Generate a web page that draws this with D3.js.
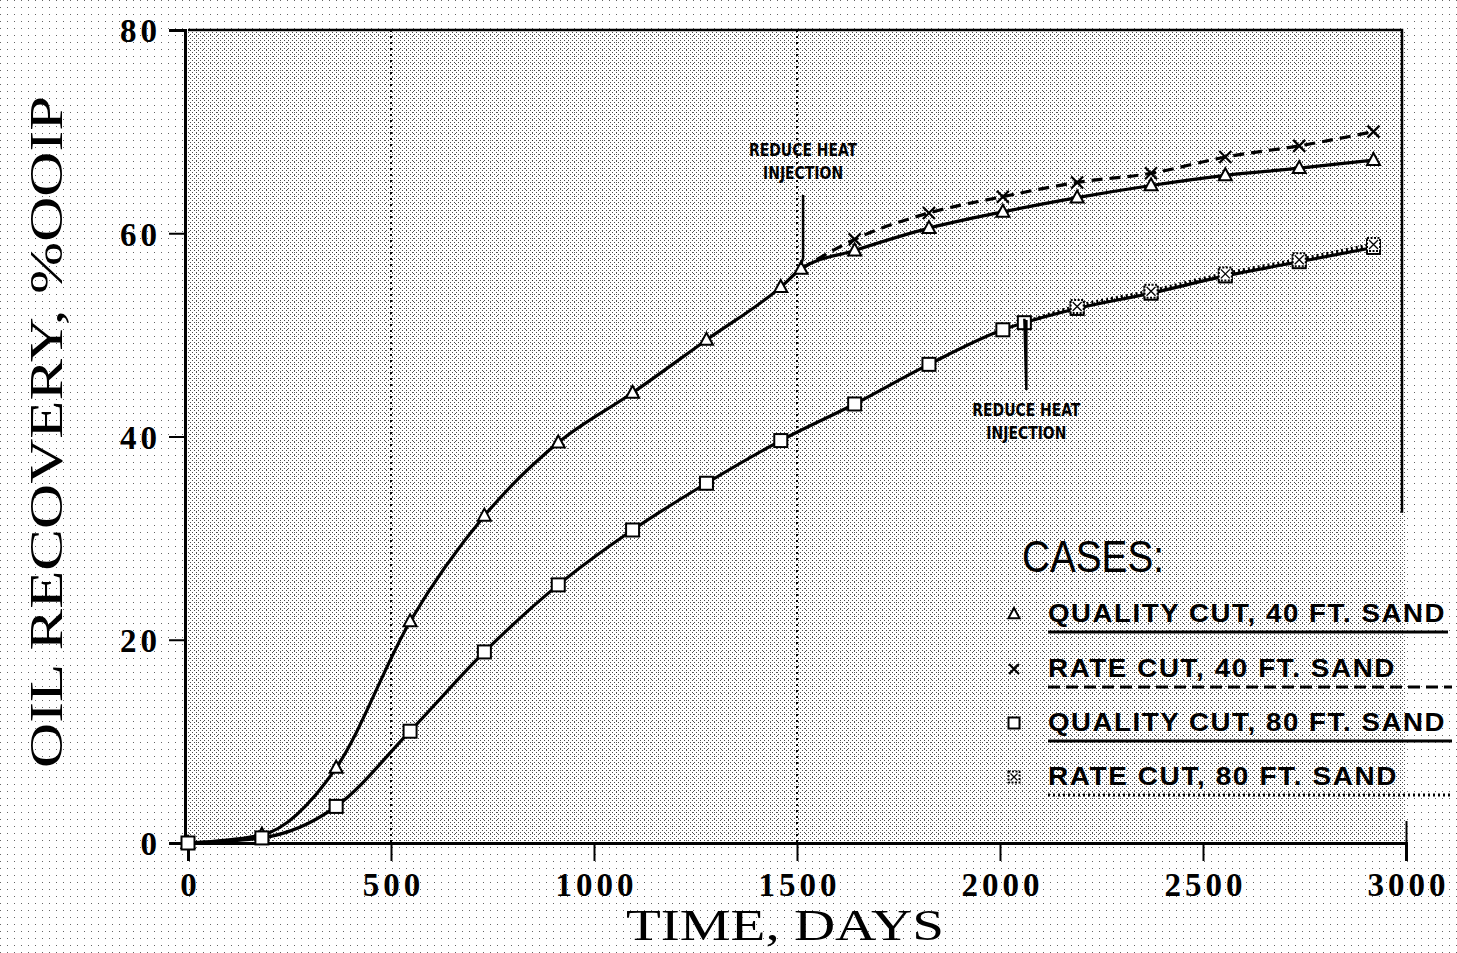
<!DOCTYPE html>
<html>
<head>
<meta charset="utf-8">
<script src="https://cdn.jsdelivr.net/npm/d3@7"></script>
<style>
  html, body { margin: 0; padding: 0; background: #fff; }
  svg { display: block; }
</style>
</head>
<body>
<svg id="chart" width="1457" height="953"></svg>
<script>
// Cumulative oil recovery (% OOIP) versus time (days) for four steam cases.
const daysQ40 = [0, 182, 365, 547, 730, 912, 1095, 1277, 1460, 1510, 1642, 1825, 2007, 2190, 2372, 2555, 2737, 2920];
const recQ40  = [0, 0.8, 7.4, 21.8, 32.2, 39.4, 44.3, 49.5, 54.7, 56.5, 58.3, 60.5, 62.1, 63.5, 64.7, 65.7, 66.4, 67.2];

const daysR40 = [1510, 1642, 1825, 2007, 2190, 2372, 2555, 2737, 2920];
const recR40  = [56.5, 59.4, 62.0, 63.6, 65.0, 65.9, 67.5, 68.6, 70.0];

const daysQ80 = [0, 182, 365, 547, 730, 912, 1095, 1277, 1460, 1642, 1825, 2007, 2060, 2190, 2372, 2555, 2737, 2920];
const recQ80  = [0, 0.5, 3.6, 11.0, 18.8, 25.4, 30.8, 35.4, 39.6, 43.2, 47.1, 50.5, 51.2, 52.6, 54.1, 55.8, 57.2, 58.6];

const daysR80 = [2060, 2190, 2372, 2555, 2737, 2920];
const recR80  = [51.2, 52.8, 54.3, 56.0, 57.4, 58.9];

const xTicks = [0, 500, 1000, 1500, 2000, 2500, 3000];
const yTicks = [0, 20, 40, 60, 80];
const gridDays = [500, 1500];

const legendLabels = [
  "QUALITY CUT, 40 FT. SAND",
  "RATE CUT, 40 FT. SAND",
  "QUALITY CUT, 80 FT. SAND",
  "RATE CUT, 80 FT. SAND"
];
const noteText = ["REDUCE HEAT", "INJECTION"];

const svg = d3.select("#chart");
const serif = "'Liberation Serif', 'DejaVu Serif', serif";
const sans = "'Liberation Sans Narrow', 'Liberation Sans', 'DejaVu Sans Condensed', sans-serif";

const x = d3.scaleLinear().domain([0, 3000]).range([188, 1406]);
const y = d3.scaleLinear().domain([0, 80]).range([843, 30]);

// halftone-like screen over the page
const defs = svg.append("defs");
const pat = defs.append("pattern").attr("id", "screen")
  .attr("width", 4).attr("height", 4).attr("patternUnits", "userSpaceOnUse");
pat.append("rect").attr("x", 0).attr("y", 0).attr("width", 1).attr("height", 1).attr("fill", "#000");
pat.append("rect").attr("x", 2).attr("y", 2).attr("width", 1).attr("height", 1).attr("fill", "#000");
const pat2 = defs.append("pattern").attr("id", "screenLight")
  .attr("width", 7).attr("height", 7).attr("patternUnits", "userSpaceOnUse");
pat2.append("rect").attr("x", 0).attr("y", 0).attr("width", 1).attr("height", 1).attr("fill", "#000");

svg.append("rect").attr("width", 1457).attr("height", 953).attr("fill", "#fff");
svg.append("rect").attr("width", 1457).attr("height", 953).attr("fill", "url(#screenLight)").attr("opacity", 0.6);
svg.append("rect")
  .attr("x", x(0)).attr("y", y(80))
  .attr("width", x(3000) - x(0)).attr("height", y(0) - y(80))
  .attr("fill", "url(#screen)").attr("opacity", 0.7);

// dotted vertical grid lines
svg.append("g").selectAll("line").data(gridDays).join("line")
  .attr("x1", d => x(d)).attr("x2", d => x(d))
  .attr("y1", y(80)).attr("y2", y(0))
  .attr("stroke", "#000").attr("stroke-width", 2)
  .attr("stroke-dasharray", "2,4");

// frame: top and right edges
svg.append("path")
  .attr("d", `M${x(0)},${y(80)}H${x(3000) - 4}V${y(32.5)}`)
  .attr("fill", "none").attr("stroke", "#000").attr("stroke-width", 2.5);

// y axis
const yAxis = d3.axisLeft(y).tickValues(yTicks).tickSize(16).tickPadding(8).tickFormat(d3.format("d"));
const gy = svg.append("g").attr("transform", `translate(${x(0) - 3},0)`).call(yAxis);
gy.select(".domain").attr("stroke-width", 3);
gy.selectAll(".tick line").attr("stroke-width", 2);
gy.selectAll("text").attr("font-family", serif).attr("font-size", 33).attr("font-weight", "bold")
  .attr("letter-spacing", 4).attr("fill", "#000").attr("dy", "0.36em");

// x axis
const xAxis = d3.axisBottom(x).tickValues(xTicks).tickSize(18).tickPadding(12).tickFormat(d3.format("d"));
const gx = svg.append("g").attr("transform", `translate(0,${y(0)})`).call(xAxis);
gx.select(".domain").attr("stroke-width", 3);
gx.selectAll(".tick line").attr("stroke-width", 2).attr("y1", d => d === 3000 ? -22 : 0);
gx.selectAll("text").attr("font-family", serif).attr("font-size", 33).attr("font-weight", "bold")
  .attr("letter-spacing", 4).attr("dx", 2).attr("fill", "#000");

// axis titles
svg.append("text")
  .attr("transform", `translate(62,${432}) rotate(-90)`)
  .attr("text-anchor", "middle")
  .attr("font-family", serif).attr("font-size", 46).attr("fill", "#000")
  .attr("textLength", 672).attr("lengthAdjust", "spacingAndGlyphs")
  .text("OIL RECOVERY, %OOIP");
svg.append("text")
  .attr("x", 785).attr("y", 940)
  .attr("text-anchor", "middle")
  .attr("font-family", serif).attr("font-size", 44).attr("fill", "#000")
  .attr("textLength", 318).attr("lengthAdjust", "spacingAndGlyphs")
  .text("TIME, DAYS");

// curves
const line = d3.line().x(d => x(d[0])).y(d => y(d[1])).curve(d3.curveMonotoneX);
const zip = (a, b) => a.map((v, i) => [v, b[i]]);

const series = [
  { key: "q40", pts: zip(daysQ40, recQ40), dash: null, width: 3.2, marker: "triangle" },
  { key: "r40", pts: zip(daysR40, recR40), dash: "11,7", width: 3.2, marker: "cross" },
  { key: "q80", pts: zip(daysQ80, recQ80), dash: null, width: 3.2, marker: "square" },
  { key: "r80", pts: zip(daysR80, recR80), dash: "2,3", width: 4, marker: "xsquare" }
];

series.forEach(s => {
  svg.append("path").datum(s.pts)
    .attr("d", line)
    .attr("fill", "none").attr("stroke", "#000")
    .attr("stroke-width", s.width)
    .attr("stroke-dasharray", s.dash);
});

function drawMarker(g, type, cx, cy, size) {
  const h = size / 2;
  if (type === "triangle") {
    g.append("path").attr("d", `M${cx},${cy - h * 1.1}L${cx + h},${cy + h * 0.75}L${cx - h},${cy + h * 0.75}Z`)
      .attr("fill", "#fff").attr("stroke", "#000").attr("stroke-width", 2);
  } else if (type === "cross") {
    g.append("path").attr("d", `M${cx - h},${cy - h}L${cx + h},${cy + h}M${cx - h},${cy + h}L${cx + h},${cy - h}`)
      .attr("stroke", "#000").attr("stroke-width", 2.2);
  } else if (type === "square") {
    g.append("rect").attr("x", cx - h).attr("y", cy - h).attr("width", size).attr("height", size)
      .attr("fill", "#fff").attr("stroke", "#000").attr("stroke-width", 2);
  } else {
    g.append("rect").attr("x", cx - h).attr("y", cy - h).attr("width", size).attr("height", size)
      .attr("fill", "#fff").attr("stroke", "#000").attr("stroke-width", 2).attr("stroke-dasharray", "2,1.5");
    g.append("path").attr("d", `M${cx - h + 2},${cy - h + 2}L${cx + h - 2},${cy + h - 2}M${cx - h + 2},${cy + h - 2}L${cx + h - 2},${cy - h + 2}`)
      .attr("stroke", "#000").attr("stroke-width", 1.3);
  }
}

const markG = svg.append("g");
series.forEach(s => {
  s.pts.forEach((p, i) => {
    if (s.key === "r80" && i === 0) return;
    if (s.key === "r40" && i === 0) return;
    drawMarker(markG, s.marker, x(p[0]), y(p[1]), s.marker === "cross" ? 12 : 13);
  });
});

// "reduce heat injection" notes with leader lines
function note(day, rec, lineTop, lineBottom, textY) {
  const g = svg.append("g");
  const lx = x(day) + 2;
  g.append("path")
    .attr("d", `M${lx},${lineTop}V${lineBottom}L${x(day)},${y(rec) - 4}`)
    .attr("fill", "none").attr("stroke", "#000").attr("stroke-width", 2.5);
  noteText.forEach((t, i) => {
    g.append("text")
      .attr("x", lx).attr("y", textY + i * 23)
      .attr("text-anchor", "middle")
      .attr("font-family", "'DejaVu Sans Condensed', 'Liberation Sans Narrow', sans-serif")
      .attr("font-weight", "bold").attr("font-size", 17)
      .attr("textLength", i === 0 ? 108 : 80).attr("lengthAdjust", "spacingAndGlyphs")
      .attr("fill", "#000")
      .text(t);
  });
}
note(1510, 56.5, 195, 258, 156);
note(2060, 51.2, 320, 390, 416);

// legend
const lg = svg.append("g");
lg.append("text").attr("x", 1022).attr("y", 572)
  .attr("font-family", sans).attr("font-size", 44).attr("fill", "#000")
  .attr("textLength", 142).attr("lengthAdjust", "spacingAndGlyphs")
  .text("CASES:");
const rowY = [622, 677, 731, 785];
const underline = [null, "12,6", null, "2,3"];
const ulEnd = [1448, 1452, 1452, 1452];
legendLabels.forEach((t, i) => {
  drawMarker(lg, series[i].marker, 1014, rowY[i] - 8, series[i].marker === "cross" ? 10 : 11);
  lg.append("text").attr("x", 1048).attr("y", rowY[i])
    .attr("font-family", sans).attr("font-weight", "bold").attr("font-size", 26)
    .attr("letter-spacing", 1.5).attr("fill", "#000")
    .attr("textLength", i === 1 ? 348 : (i === 3 ? 350 : 398)).attr("lengthAdjust", "spacingAndGlyphs")
    .text(t);
  lg.append("line").attr("x1", 1048).attr("x2", ulEnd[i])
    .attr("y1", rowY[i] + 10).attr("y2", rowY[i] + 10)
    .attr("stroke", "#000").attr("stroke-width", 3)
    .attr("stroke-dasharray", underline[i]);
});
</script>
</body>
</html>
